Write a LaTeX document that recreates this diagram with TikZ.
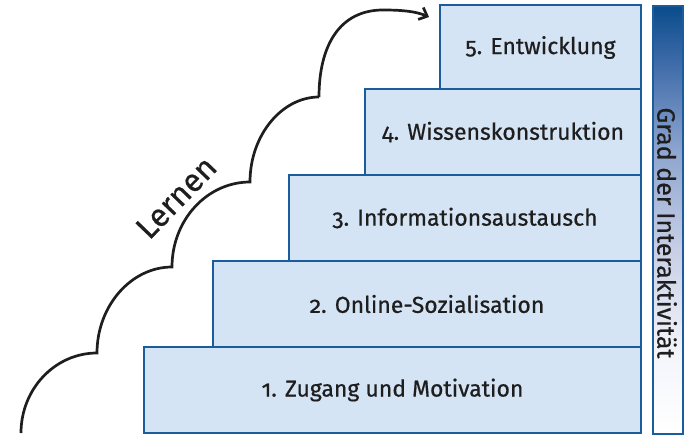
\documentclass[tikz,border=0pt]{standalone}
\usepackage{fontspec}
\setmainfont[Numbers=OldStyle,FakeBold=0.6]{Fira Sans}
\usetikzlibrary{arrows.meta}
\definecolor{boxblue}{HTML}{1A5C9C}
\definecolor{boxfill}{HTML}{D4E4F4}
\definecolor{inkc}{HTML}{1E1E1E}
\definecolor{barA}{HTML}{0A4C8C}
\definecolor{barB}{HTML}{3D6AA8}
\definecolor{barC}{HTML}{8EA5CF}
\definecolor{barD}{HTML}{C8CFE6}
\definecolor{barE}{HTML}{F4F5FB}
\pgfdeclareverticalshading{barshade}{100bp}{%
  color(0bp)=(white); color(25bp)=(white); color(34.5bp)=(barE);
  color(46.5bp)=(barD); color(58bp)=(barC); color(68.5bp)=(barB);
  color(75bp)=(barA); color(100bp)=(barA)}
\tikzset{
  stepbox/.style={draw=boxblue, line width=2.4pt, fill=boxfill, anchor=north west,
    inner sep=0pt, outer sep=0pt, text=inkc,
    font=\fontsize{23}{27}\selectfont},
  curve/.style={draw=inkc, line width=2.7pt},
}
\begin{document}
\begin{tikzpicture}[x=1pt,y=-1pt]
\useasboundingbox (0,0) rectangle (687,436);
% steps
\node[stepbox, minimum width=201pt, minimum height=85pt] (b5) at (440,5) {5. Entwicklung};
\node[stepbox, minimum width=276pt, minimum height=86pt] (b4) at (365,89) {4. Wissenskonstruktion};
\node[stepbox, minimum width=352pt, minimum height=86pt] (b3) at (289,175) {3. Informationsaustausch};
\node[stepbox, minimum width=428pt, minimum height=86pt] (b2) at (213,261) {2. Online-Sozialisation};
\node[stepbox, minimum width=497pt, minimum height=86pt] (b1) at (144,347) {1. Zugang und Motivation};
% interactivity bar
\node[draw=boxblue, line width=1.8pt, shading=barshade, anchor=north west,
      minimum width=30pt, minimum height=428pt, inner sep=0pt] (bar) at (652,5) {};
\node[rotate=-90, text=inkc, font=\fontsize{25}{29}\selectfont] (bart) at (667,233) {Grad der Interaktivität};
% learning curve
\coordinate (c0) at (21,433);
\coordinate (c1) at (97,353);
\coordinate (c2) at (172,267);
\coordinate (c3) at (250,182);
\coordinate (c4) at (319,97);
\coordinate (ctop) at (383,10);
\coordinate (cend) at (429,17);
\draw[curve] (c0) .. controls (21,389) and (55,353) .. (c1)
  .. controls (97,306) and (131,267) .. (c2)
  .. controls (172,220) and (207,182) .. (c3)
  .. controls (250,135) and (282,97) .. (c4);
\draw[curve, -{Straight Barb[length=7pt,width=13pt]}] (c4) .. controls (319,45) and (340,10) .. (ctop)
  .. controls (400,10) and (415,11) .. (cend);
\node[rotate=46, anchor=base, text=inkc, font=\fontsize{32}{36}\selectfont] (lern) at (184,205) {Lernen};
\end{tikzpicture}
\end{document}
